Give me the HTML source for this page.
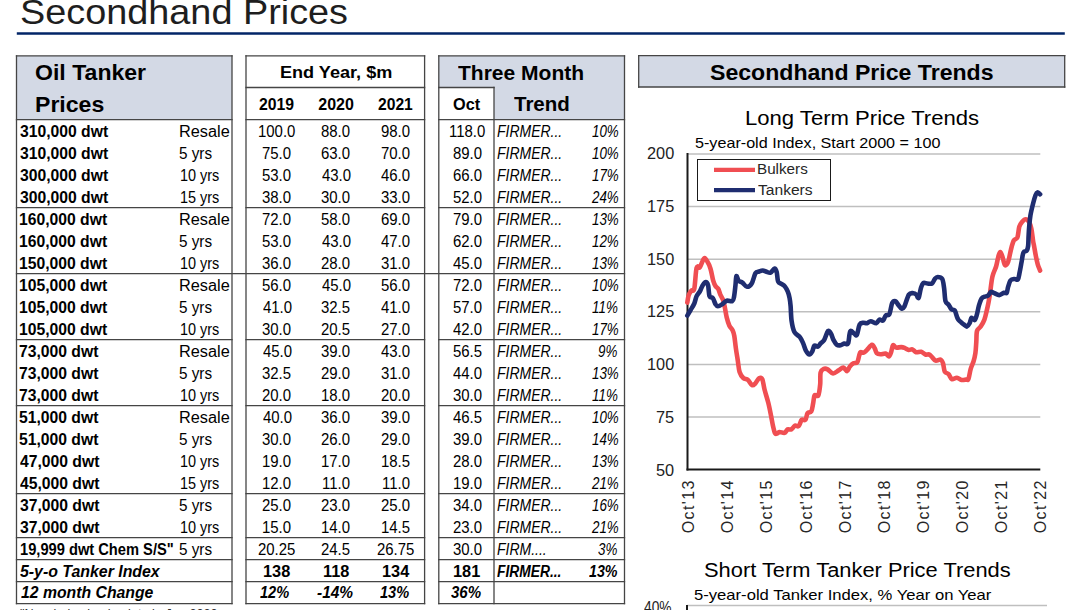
<!DOCTYPE html>
<html><head><meta charset="utf-8"><title>Secondhand Prices</title>
<style>
html,body{margin:0;padding:0;background:#fff;}
body{width:1080px;height:610px;position:relative;overflow:hidden;font-family:"Liberation Sans", sans-serif;color:#000;}
.t{position:absolute;white-space:pre;transform-origin:0 0;}
.r{position:absolute;}
</style></head><body>

<svg width="1080" height="610" style="position:absolute;left:0;top:0">
<rect x="16.5" y="55.8" width="215.5" height="63.8" fill="#d3d9e5"/>
<rect x="438.8" y="55.8" width="185.7" height="63.8" fill="#d3d9e5"/>
<rect x="438.8" y="87.5" width="55.19999999999999" height="32.099999999999994" fill="#fff"/>
<rect x="638.7" y="55.6" width="426.0" height="31.4" fill="#d3d9e5"/>
<line x1="15.85" x2="232.65" y1="55.80" y2="55.80" stroke="#454545" stroke-width="1.3"/>
<line x1="15.85" x2="232.65" y1="119.60" y2="119.60" stroke="#454545" stroke-width="1.3"/>
<line x1="15.85" x2="232.65" y1="603.60" y2="603.60" stroke="#454545" stroke-width="1.3"/>
<line x1="16.50" x2="16.50" y1="55.15" y2="604.25" stroke="#454545" stroke-width="1.3"/>
<line x1="232.00" x2="232.00" y1="55.15" y2="604.25" stroke="#454545" stroke-width="1.3"/>
<line x1="245.35" x2="425.25" y1="55.80" y2="55.80" stroke="#454545" stroke-width="1.3"/>
<line x1="245.35" x2="425.25" y1="119.60" y2="119.60" stroke="#454545" stroke-width="1.3"/>
<line x1="245.35" x2="425.25" y1="603.60" y2="603.60" stroke="#454545" stroke-width="1.3"/>
<line x1="246.00" x2="246.00" y1="55.15" y2="604.25" stroke="#454545" stroke-width="1.3"/>
<line x1="424.60" x2="424.60" y1="55.15" y2="604.25" stroke="#454545" stroke-width="1.3"/>
<line x1="438.15" x2="625.15" y1="55.80" y2="55.80" stroke="#454545" stroke-width="1.3"/>
<line x1="438.15" x2="625.15" y1="119.60" y2="119.60" stroke="#454545" stroke-width="1.3"/>
<line x1="438.15" x2="625.15" y1="603.60" y2="603.60" stroke="#454545" stroke-width="1.3"/>
<line x1="438.80" x2="438.80" y1="55.15" y2="604.25" stroke="#454545" stroke-width="1.3"/>
<line x1="624.50" x2="624.50" y1="55.15" y2="604.25" stroke="#454545" stroke-width="1.3"/>
<line x1="245.35" x2="425.25" y1="87.50" y2="87.50" stroke="#454545" stroke-width="1.3"/>
<line x1="438.15" x2="494.65" y1="87.50" y2="87.50" stroke="#454545" stroke-width="1.3"/>
<line x1="494.00" x2="494.00" y1="86.85" y2="604.25" stroke="#454545" stroke-width="1.3"/>
<line x1="15.85" x2="232.65" y1="207.60" y2="207.60" stroke="#454545" stroke-width="1.3"/>
<line x1="245.35" x2="425.25" y1="207.60" y2="207.60" stroke="#454545" stroke-width="1.3"/>
<line x1="438.15" x2="625.15" y1="207.60" y2="207.60" stroke="#454545" stroke-width="1.3"/>
<line x1="15.85" x2="232.65" y1="339.60" y2="339.60" stroke="#454545" stroke-width="1.3"/>
<line x1="245.35" x2="425.25" y1="339.60" y2="339.60" stroke="#454545" stroke-width="1.3"/>
<line x1="438.15" x2="625.15" y1="339.60" y2="339.60" stroke="#454545" stroke-width="1.3"/>
<line x1="15.85" x2="232.65" y1="405.60" y2="405.60" stroke="#454545" stroke-width="1.3"/>
<line x1="245.35" x2="425.25" y1="405.60" y2="405.60" stroke="#454545" stroke-width="1.3"/>
<line x1="438.15" x2="625.15" y1="405.60" y2="405.60" stroke="#454545" stroke-width="1.3"/>
<line x1="15.85" x2="232.65" y1="493.60" y2="493.60" stroke="#454545" stroke-width="1.3"/>
<line x1="245.35" x2="425.25" y1="493.60" y2="493.60" stroke="#454545" stroke-width="1.3"/>
<line x1="438.15" x2="625.15" y1="493.60" y2="493.60" stroke="#454545" stroke-width="1.3"/>
<line x1="15.85" x2="232.65" y1="537.60" y2="537.60" stroke="#454545" stroke-width="1.3"/>
<line x1="245.35" x2="425.25" y1="537.60" y2="537.60" stroke="#454545" stroke-width="1.3"/>
<line x1="438.15" x2="625.15" y1="537.60" y2="537.60" stroke="#454545" stroke-width="1.3"/>
<line x1="15.85" x2="232.65" y1="559.60" y2="559.60" stroke="#454545" stroke-width="1.3"/>
<line x1="245.35" x2="425.25" y1="559.60" y2="559.60" stroke="#454545" stroke-width="1.3"/>
<line x1="438.15" x2="625.15" y1="559.60" y2="559.60" stroke="#454545" stroke-width="1.3"/>
<line x1="15.85" x2="232.65" y1="581.60" y2="581.60" stroke="#454545" stroke-width="1.3"/>
<line x1="245.35" x2="425.25" y1="581.60" y2="581.60" stroke="#454545" stroke-width="1.3"/>
<line x1="438.15" x2="625.15" y1="581.60" y2="581.60" stroke="#454545" stroke-width="1.3"/>
<line x1="15.85" x2="625.15" y1="273.60" y2="273.60" stroke="#454545" stroke-width="1.3"/>
<line x1="638.05" x2="1065.35" y1="55.60" y2="55.60" stroke="#454545" stroke-width="1.3"/>
<line x1="638.05" x2="1065.35" y1="87.00" y2="87.00" stroke="#454545" stroke-width="1.3"/>
<line x1="638.70" x2="638.70" y1="54.95" y2="87.65" stroke="#454545" stroke-width="1.3"/>
<line x1="1064.70" x2="1064.70" y1="54.95" y2="87.65" stroke="#454545" stroke-width="1.3"/>
<line x1="16.8" x2="1064.8" y1="33.6" y2="33.6" stroke="#022567" stroke-width="2.5"/>
</svg>
<svg width="1080" height="610" style="position:absolute;left:0;top:0">
<line x1="687.5" x2="1040.3" y1="154.0" y2="154.0" stroke="#bfbfbf" stroke-width="1.5"/>
<line x1="687.5" x2="1040.3" y1="206.6" y2="206.6" stroke="#bfbfbf" stroke-width="1.5"/>
<line x1="687.5" x2="1040.3" y1="259.2" y2="259.2" stroke="#bfbfbf" stroke-width="1.5"/>
<line x1="687.5" x2="1040.3" y1="311.8" y2="311.8" stroke="#bfbfbf" stroke-width="1.5"/>
<line x1="687.5" x2="1040.3" y1="364.4" y2="364.4" stroke="#bfbfbf" stroke-width="1.5"/>
<line x1="687.5" x2="1040.3" y1="417.0" y2="417.0" stroke="#bfbfbf" stroke-width="1.5"/>
<line x1="687.5" x2="687.5" y1="153.0" y2="470.6" stroke="#1a1a1a" stroke-width="2"/>
<line x1="686.5" x2="1040.3" y1="469.6" y2="469.6" stroke="#1a1a1a" stroke-width="2"/>
<path d="M687.30,302.60 C687.53,301.37 688.00,297.20 688.70,295.20 C689.40,293.20 690.57,291.68 691.50,290.60 C692.43,289.52 693.45,292.50 694.30,288.70 C695.15,284.90 695.68,271.37 696.60,267.80 C697.52,264.23 698.57,268.85 699.80,267.30 C701.03,265.75 702.77,259.50 704.00,258.50 C705.23,257.50 706.12,259.60 707.20,261.30 C708.28,263.00 709.50,265.47 710.50,268.70 C711.50,271.93 712.35,277.77 713.20,280.70 C714.05,283.63 714.75,284.92 715.60,286.30 C716.45,287.68 717.53,287.67 718.30,289.00 C719.07,290.33 719.42,292.50 720.20,294.30 C720.98,296.10 722.23,297.65 723.00,299.80 C723.77,301.95 724.18,304.27 724.80,307.20 C725.42,310.13 725.93,314.32 726.70,317.40 C727.47,320.48 728.40,323.53 729.40,325.70 C730.40,327.87 731.88,328.68 732.70,330.40 C733.52,332.12 733.77,332.98 734.30,336.00 C734.83,339.02 735.32,344.40 735.90,348.50 C736.48,352.60 737.18,356.68 737.80,360.60 C738.42,364.52 738.68,369.10 739.60,372.00 C740.52,374.90 741.90,376.67 743.30,378.00 C744.70,379.33 746.53,378.80 748.00,380.00 C749.47,381.20 750.87,384.65 752.10,385.20 C753.33,385.75 754.23,384.47 755.40,383.30 C756.57,382.13 757.95,378.88 759.10,378.20 C760.25,377.52 761.38,377.27 762.30,379.20 C763.22,381.13 763.60,385.87 764.60,389.80 C765.60,393.73 767.22,398.43 768.30,402.80 C769.38,407.17 770.35,412.30 771.10,416.00 C771.85,419.70 772.15,422.15 772.80,425.00 C773.45,427.85 774.27,431.68 775.00,433.10 C775.73,434.52 776.47,433.68 777.20,433.50 C777.93,433.32 778.17,432.12 779.40,432.00 C780.63,431.88 783.23,433.23 784.60,432.80 C785.97,432.37 786.48,429.97 787.60,429.40 C788.72,428.83 790.07,430.02 791.30,429.40 C792.53,428.78 793.77,426.25 795.00,425.70 C796.23,425.15 797.58,427.08 798.70,426.10 C799.82,425.12 800.58,420.85 801.70,419.80 C802.82,418.75 804.42,420.92 805.40,419.80 C806.38,418.68 806.62,414.48 807.60,413.10 C808.58,411.72 810.37,413.18 811.30,411.50 C812.23,409.82 812.65,405.68 813.20,403.00 C813.75,400.32 813.75,396.67 814.60,395.40 C815.45,394.13 817.37,397.25 818.30,395.40 C819.23,393.55 819.82,388.10 820.20,384.30 C820.58,380.50 819.98,375.17 820.60,372.60 C821.22,370.03 822.73,369.43 823.90,368.90 C825.07,368.37 826.07,368.63 827.60,369.40 C829.13,370.17 831.25,373.35 833.10,373.50 C834.95,373.65 837.00,371.30 838.70,370.30 C840.40,369.30 841.92,367.35 843.30,367.50 C844.68,367.65 845.92,371.35 847.00,371.20 C848.08,371.05 848.72,367.92 849.80,366.60 C850.88,365.28 852.27,364.00 853.50,363.30 C854.73,362.60 856.27,363.63 857.20,362.40 C858.13,361.17 858.55,357.60 859.10,355.90 C859.65,354.20 859.73,352.73 860.50,352.20 C861.27,351.67 862.62,353.08 863.70,352.70 C864.78,352.32 865.62,351.22 867.00,349.90 C868.38,348.58 870.70,345.03 872.00,344.80 C873.30,344.57 874.02,347.12 874.80,348.50 C875.58,349.88 875.77,352.13 876.70,353.10 C877.63,354.07 878.92,354.22 880.40,354.30 C881.88,354.38 884.20,353.25 885.60,353.60 C887.00,353.95 887.88,356.63 888.80,356.40 C889.72,356.17 890.40,354.05 891.10,352.20 C891.80,350.35 892.15,346.07 893.00,345.30 C893.85,344.53 894.82,347.30 896.20,347.60 C897.58,347.90 899.83,347.02 901.30,347.10 C902.77,347.18 903.77,347.63 905.00,348.10 C906.23,348.57 907.47,349.68 908.70,349.90 C909.93,350.12 911.17,349.02 912.40,349.40 C913.63,349.78 914.63,351.80 916.10,352.20 C917.57,352.60 919.65,351.42 921.20,351.80 C922.75,352.18 924.08,354.05 925.40,354.50 C926.72,354.95 928.02,354.10 929.10,354.50 C930.18,354.90 930.82,355.88 931.90,356.90 C932.98,357.92 934.15,360.15 935.60,360.60 C937.05,361.05 939.37,359.15 940.60,359.60 C941.83,360.05 942.30,361.28 943.00,363.30 C943.70,365.32 943.88,369.92 944.80,371.70 C945.72,373.48 947.33,372.77 948.50,374.00 C949.67,375.23 950.40,378.48 951.80,379.10 C953.20,379.72 955.28,377.55 956.90,377.70 C958.52,377.85 959.97,379.70 961.50,380.00 C963.03,380.30 964.95,379.65 966.10,379.50 C967.25,379.35 967.63,380.87 968.40,379.10 C969.17,377.33 969.85,371.83 970.70,368.90 C971.55,365.97 972.72,364.13 973.50,361.50 C974.28,358.87 974.93,356.35 975.40,353.10 C975.87,349.85 976.03,345.68 976.30,342.00 C976.57,338.32 976.27,333.57 977.00,331.00 C977.73,328.43 979.47,328.50 980.70,326.60 C981.93,324.70 983.38,322.30 984.40,319.60 C985.42,316.90 986.10,313.33 986.80,310.40 C987.50,307.47 988.07,304.78 988.60,302.00 C989.13,299.22 989.37,297.92 990.00,293.70 C990.63,289.48 991.38,281.23 992.40,276.70 C993.42,272.17 995.10,269.90 996.10,266.50 C997.10,263.10 997.70,258.70 998.40,256.30 C999.10,253.90 999.60,251.95 1000.30,252.10 C1001.00,252.25 1001.83,255.03 1002.60,257.20 C1003.37,259.37 1003.98,264.32 1004.90,265.10 C1005.82,265.88 1007.10,264.45 1008.10,261.90 C1009.10,259.35 1009.97,253.35 1010.90,249.80 C1011.83,246.25 1012.62,242.65 1013.70,240.60 C1014.78,238.55 1016.47,239.82 1017.40,237.50 C1018.33,235.18 1018.53,229.28 1019.30,226.70 C1020.07,224.12 1020.93,223.23 1022.00,222.00 C1023.07,220.77 1024.53,219.30 1025.70,219.30 C1026.87,219.30 1028.07,220.47 1029.00,222.00 C1029.93,223.53 1030.62,225.33 1031.30,228.50 C1031.98,231.67 1032.63,238.07 1033.10,241.00 C1033.57,243.93 1033.63,243.55 1034.10,246.10 C1034.57,248.65 1035.28,253.22 1035.90,256.30 C1036.52,259.38 1037.10,262.22 1037.80,264.60 C1038.50,266.98 1039.72,269.60 1040.10,270.60" fill="none" stroke="#f04e52" stroke-width="4.6" stroke-linejoin="round" stroke-linecap="round"/>
<path d="M687.30,315.60 C687.85,314.67 689.43,312.02 690.60,310.00 C691.77,307.98 693.30,305.82 694.30,303.50 C695.30,301.18 695.68,298.10 696.60,296.10 C697.52,294.10 698.80,293.28 699.80,291.50 C700.80,289.72 701.60,286.97 702.60,285.40 C703.60,283.83 704.88,282.10 705.80,282.10 C706.72,282.10 707.48,283.07 708.10,285.40 C708.72,287.73 708.72,294.00 709.50,296.10 C710.28,298.20 711.78,296.62 712.80,298.00 C713.82,299.38 714.75,303.02 715.60,304.40 C716.45,305.78 716.83,306.30 717.90,306.30 C718.97,306.30 720.53,305.33 722.00,304.40 C723.47,303.47 725.00,301.23 726.70,300.70 C728.40,300.17 730.98,301.82 732.20,301.20 C733.42,300.58 733.45,299.70 734.00,297.00 C734.55,294.30 735.10,288.48 735.50,285.00 C735.90,281.52 735.87,276.82 736.40,276.10 C736.93,275.38 737.70,279.62 738.70,280.70 C739.70,281.78 741.02,281.58 742.40,282.60 C743.78,283.62 745.45,286.65 747.00,286.80 C748.55,286.95 750.30,285.75 751.70,283.50 C753.10,281.25 754.18,275.30 755.40,273.30 C756.62,271.30 757.77,271.97 759.00,271.50 C760.23,271.03 761.55,270.45 762.80,270.50 C764.05,270.55 765.20,271.43 766.50,271.80 C767.80,272.17 769.25,273.25 770.60,272.70 C771.95,272.15 773.58,268.62 774.60,268.50 C775.62,268.38 776.12,269.83 776.70,272.00 C777.28,274.17 777.33,279.53 778.10,281.50 C778.87,283.47 780.15,282.95 781.30,283.80 C782.45,284.65 783.92,285.28 785.00,286.60 C786.08,287.92 787.03,289.78 787.80,291.70 C788.57,293.62 789.13,295.72 789.60,298.10 C790.07,300.48 790.27,302.20 790.60,306.00 C790.93,309.80 790.97,316.57 791.60,320.90 C792.23,325.23 793.02,329.30 794.40,332.00 C795.78,334.70 798.45,335.25 799.90,337.10 C801.35,338.95 802.10,340.85 803.10,343.10 C804.10,345.35 804.83,348.70 805.90,350.60 C806.97,352.50 808.43,354.38 809.50,354.50 C810.57,354.62 811.48,352.78 812.30,351.30 C813.12,349.82 813.45,346.38 814.40,345.60 C815.35,344.82 816.97,346.97 818.00,346.60 C819.03,346.23 819.60,344.45 820.60,343.40 C821.60,342.35 822.98,341.92 824.00,340.30 C825.02,338.68 825.98,335.28 826.70,333.70 C827.42,332.12 827.57,330.78 828.30,330.80 C829.03,330.82 830.22,332.23 831.10,333.80 C831.98,335.37 832.63,338.37 833.60,340.20 C834.57,342.03 835.73,343.97 836.90,344.80 C838.07,345.63 839.33,345.42 840.60,345.20 C841.87,344.98 843.25,343.82 844.50,343.50 C845.75,343.18 847.15,345.32 848.10,343.30 C849.05,341.28 849.20,333.03 850.20,331.40 C851.20,329.77 852.98,332.93 854.10,333.50 C855.22,334.07 855.98,336.28 856.90,334.80 C857.82,333.32 858.53,326.60 859.60,324.60 C860.67,322.60 862.07,323.03 863.30,322.80 C864.53,322.57 865.77,323.47 867.00,323.20 C868.23,322.93 869.15,321.20 870.70,321.20 C872.25,321.20 874.85,323.47 876.30,323.20 C877.75,322.93 878.28,320.03 879.40,319.60 C880.52,319.17 881.95,321.28 883.00,320.60 C884.05,319.92 884.63,316.58 885.70,315.50 C886.77,314.42 888.32,316.18 889.40,314.10 C890.48,312.02 891.18,305.17 892.20,303.00 C893.22,300.83 894.50,300.80 895.50,301.10 C896.50,301.40 897.20,303.57 898.20,304.80 C899.20,306.03 900.48,308.18 901.50,308.50 C902.52,308.82 903.07,309.02 904.30,306.70 C905.53,304.38 907.37,296.85 908.90,294.60 C910.43,292.35 912.27,293.20 913.50,293.20 C914.73,293.20 915.45,293.82 916.30,294.60 C917.15,295.38 917.83,298.98 918.60,297.90 C919.37,296.82 920.13,290.57 920.90,288.10 C921.67,285.63 922.12,283.87 923.20,283.10 C924.28,282.33 925.93,283.43 927.40,283.50 C928.87,283.57 930.77,284.27 932.00,283.50 C933.23,282.73 933.87,279.98 934.80,278.90 C935.73,277.82 936.37,277.00 937.60,277.00 C938.83,277.00 941.12,277.05 942.20,278.90 C943.28,280.75 943.55,284.40 944.10,288.10 C944.65,291.80 944.73,298.32 945.50,301.10 C946.27,303.88 947.70,303.42 948.70,304.80 C949.70,306.18 950.50,308.47 951.50,309.40 C952.50,310.33 953.78,309.15 954.70,310.40 C955.62,311.65 956.37,315.33 957.00,316.90 C957.63,318.47 957.78,318.88 958.50,319.80 C959.22,320.72 960.37,321.58 961.30,322.40 C962.23,323.22 963.17,324.00 964.10,324.70 C965.03,325.40 965.98,326.83 966.90,326.60 C967.82,326.37 968.83,324.77 969.60,323.30 C970.37,321.83 970.65,318.33 971.50,317.80 C972.35,317.27 973.78,320.72 974.70,320.10 C975.62,319.48 976.30,316.50 977.00,314.10 C977.70,311.70 978.12,308.33 978.90,305.70 C979.68,303.07 980.62,299.83 981.70,298.30 C982.78,296.77 984.33,296.95 985.40,296.50 C986.47,296.05 987.18,296.37 988.10,295.60 C989.02,294.83 989.97,292.37 990.90,291.90 C991.83,291.43 992.30,292.27 993.70,292.80 C995.10,293.33 997.60,295.10 999.30,295.10 C1001.00,295.10 1002.67,293.18 1003.90,292.80 C1005.13,292.42 1006.00,293.78 1006.70,292.80 C1007.40,291.82 1007.47,288.97 1008.10,286.90 C1008.73,284.83 1009.42,281.72 1010.50,280.40 C1011.58,279.08 1013.37,279.17 1014.60,279.00 C1015.83,278.83 1017.05,280.57 1017.90,279.40 C1018.75,278.23 1019.08,274.92 1019.70,272.00 C1020.32,269.08 1020.98,265.13 1021.60,261.90 C1022.22,258.67 1022.55,254.47 1023.40,252.60 C1024.25,250.73 1025.92,251.78 1026.70,250.70 C1027.48,249.62 1027.78,248.55 1028.10,246.10 C1028.42,243.65 1028.42,239.23 1028.60,236.00 C1028.78,232.77 1028.90,230.10 1029.20,226.70 C1029.50,223.30 1029.75,219.47 1030.40,215.60 C1031.05,211.73 1032.25,206.90 1033.10,203.50 C1033.95,200.10 1034.80,197.05 1035.50,195.20 C1036.20,193.35 1036.53,192.55 1037.30,192.40 C1038.07,192.25 1039.63,193.98 1040.10,194.30" fill="none" stroke="#1f2d70" stroke-width="4.6" stroke-linejoin="round" stroke-linecap="round"/>
<rect x="697.5" y="159.5" width="133" height="41" fill="#fff" stroke="#1a1a1a" stroke-width="1"/>
<line x1="714" x2="755" y1="169.8" y2="169.8" stroke="#f04e52" stroke-width="4.2"/>
<line x1="714" x2="755" y1="190.2" y2="190.2" stroke="#1f2d70" stroke-width="4.2"/>
<text transform="translate(694.1,533.3) rotate(-90)" font-family="Liberation Sans" font-size="16" letter-spacing="1.4" fill="#262626">Oct'13</text>
<text transform="translate(733.2,533.3) rotate(-90)" font-family="Liberation Sans" font-size="16" letter-spacing="1.4" fill="#262626">Oct'14</text>
<text transform="translate(772.3,533.3) rotate(-90)" font-family="Liberation Sans" font-size="16" letter-spacing="1.4" fill="#262626">Oct'15</text>
<text transform="translate(811.5,533.3) rotate(-90)" font-family="Liberation Sans" font-size="16" letter-spacing="1.4" fill="#262626">Oct'16</text>
<text transform="translate(850.6,533.3) rotate(-90)" font-family="Liberation Sans" font-size="16" letter-spacing="1.4" fill="#262626">Oct'17</text>
<text transform="translate(889.7,533.3) rotate(-90)" font-family="Liberation Sans" font-size="16" letter-spacing="1.4" fill="#262626">Oct'18</text>
<text transform="translate(928.8,533.3) rotate(-90)" font-family="Liberation Sans" font-size="16" letter-spacing="1.4" fill="#262626">Oct'19</text>
<text transform="translate(967.9,533.3) rotate(-90)" font-family="Liberation Sans" font-size="16" letter-spacing="1.4" fill="#262626">Oct'20</text>
<text transform="translate(1007.1,533.3) rotate(-90)" font-family="Liberation Sans" font-size="16" letter-spacing="1.4" fill="#262626">Oct'21</text>
<text transform="translate(1046.2,533.3) rotate(-90)" font-family="Liberation Sans" font-size="16" letter-spacing="1.4" fill="#262626">Oct'22</text>
<line x1="687" x2="1047" y1="605.5" y2="605.5" stroke="#bfbfbf" stroke-width="1.5"/>
<line x1="687" x2="687" y1="605" y2="612" stroke="#1a1a1a" stroke-width="2"/>
</svg>
<div class="t" style="left:20.34px;top:-8px;font-size:35px;line-height:39px;color:#1e1e1e;transform:scaleX(1.0807);">Secondhand Prices</div>
<div class="t" style="left:35.17px;top:60px;font-size:22.5px;line-height:25px;font-weight:bold;transform:scaleX(1.0252);">Oil Tanker</div>
<div class="t" style="left:35.17px;top:92px;font-size:22.5px;line-height:25px;font-weight:bold;transform:scaleX(1.0252);">Prices</div>
<div class="t" style="left:279.87px;top:64px;font-size:16px;line-height:17px;font-weight:bold;transform:scaleX(1.1309);">End Year, $m</div>
<div class="t" style="left:258.80px;top:96px;font-size:16px;line-height:17px;font-weight:bold;transform:scaleX(0.9857);">2019</div>
<div class="t" style="left:318.30px;top:96px;font-size:16px;line-height:17px;font-weight:bold;">2020</div>
<div class="t" style="left:377.50px;top:96px;font-size:16px;line-height:17px;font-weight:bold;transform:scaleX(0.9771);">2021</div>
<div class="t" style="left:458.10px;top:62px;font-size:20px;line-height:22px;font-weight:bold;transform:scaleX(1.0504);">Three Month</div>
<div class="t" style="left:452.98px;top:96px;font-size:16px;line-height:17px;font-weight:bold;transform:scaleX(1.0154);">Oct</div>
<div class="t" style="left:513.70px;top:93px;font-size:20px;line-height:22px;font-weight:bold;transform:scaleX(1.0245);">Trend</div>
<div class="t" style="left:20.00px;top:123px;font-size:16px;line-height:17px;font-weight:bold;transform:scaleX(0.9811);">310,000 dwt</div>
<div class="t" style="left:178.98px;top:123px;font-size:16px;line-height:17px;transform:scaleX(1.0188);">Resale</div>
<div class="t" style="left:258.07px;top:123px;font-size:16px;line-height:17px;transform:scaleX(0.9333);">100.0</div>
<div class="t" style="left:321.07px;top:123px;font-size:16px;line-height:17px;transform:scaleX(0.9333);">88.0</div>
<div class="t" style="left:380.87px;top:123px;font-size:16px;line-height:17px;transform:scaleX(0.9333);">98.0</div>
<div class="t" style="left:449.30px;top:123px;font-size:16px;line-height:17px;transform:scaleX(0.9333);">118.0</div>
<div class="t" style="left:497.30px;top:123px;font-size:16px;line-height:17px;font-style:italic;transform:scaleX(0.8740);">FIRMER...</div>
<div class="t" style="left:591.50px;top:123px;font-size:16px;line-height:17px;font-style:italic;transform:scaleX(0.8355);">10%</div>
<div class="t" style="left:20.00px;top:145px;font-size:16px;line-height:17px;font-weight:bold;transform:scaleX(0.9811);">310,000 dwt</div>
<div class="t" style="left:178.65px;top:145px;font-size:16px;line-height:17px;transform:scaleX(0.9545);">5 yrs</div>
<div class="t" style="left:262.27px;top:145px;font-size:16px;line-height:17px;transform:scaleX(0.9333);">75.0</div>
<div class="t" style="left:321.07px;top:145px;font-size:16px;line-height:17px;transform:scaleX(0.9333);">63.0</div>
<div class="t" style="left:380.87px;top:145px;font-size:16px;line-height:17px;transform:scaleX(0.9333);">70.0</div>
<div class="t" style="left:452.57px;top:145px;font-size:16px;line-height:17px;transform:scaleX(0.9333);">89.0</div>
<div class="t" style="left:497.30px;top:145px;font-size:16px;line-height:17px;font-style:italic;transform:scaleX(0.8740);">FIRMER...</div>
<div class="t" style="left:591.50px;top:145px;font-size:16px;line-height:17px;font-style:italic;transform:scaleX(0.8355);">10%</div>
<div class="t" style="left:20.00px;top:167px;font-size:16px;line-height:17px;font-weight:bold;transform:scaleX(0.9811);">300,000 dwt</div>
<div class="t" style="left:180.40px;top:167px;font-size:16px;line-height:17px;transform:scaleX(0.9024);">10 yrs</div>
<div class="t" style="left:262.27px;top:167px;font-size:16px;line-height:17px;transform:scaleX(0.9333);">53.0</div>
<div class="t" style="left:321.53px;top:167px;font-size:16px;line-height:17px;transform:scaleX(0.9333);">43.0</div>
<div class="t" style="left:381.33px;top:167px;font-size:16px;line-height:17px;transform:scaleX(0.9333);">46.0</div>
<div class="t" style="left:452.57px;top:167px;font-size:16px;line-height:17px;transform:scaleX(0.9333);">66.0</div>
<div class="t" style="left:497.30px;top:167px;font-size:16px;line-height:17px;font-style:italic;transform:scaleX(0.8740);">FIRMER...</div>
<div class="t" style="left:591.50px;top:167px;font-size:16px;line-height:17px;font-style:italic;transform:scaleX(0.8355);">17%</div>
<div class="t" style="left:20.00px;top:189px;font-size:16px;line-height:17px;font-weight:bold;transform:scaleX(0.9811);">300,000 dwt</div>
<div class="t" style="left:180.40px;top:189px;font-size:16px;line-height:17px;transform:scaleX(0.9024);">15 yrs</div>
<div class="t" style="left:262.27px;top:189px;font-size:16px;line-height:17px;transform:scaleX(0.9333);">38.0</div>
<div class="t" style="left:321.07px;top:189px;font-size:16px;line-height:17px;transform:scaleX(0.9333);">30.0</div>
<div class="t" style="left:380.87px;top:189px;font-size:16px;line-height:17px;transform:scaleX(0.9333);">33.0</div>
<div class="t" style="left:452.57px;top:189px;font-size:16px;line-height:17px;transform:scaleX(0.9333);">52.0</div>
<div class="t" style="left:497.30px;top:189px;font-size:16px;line-height:17px;font-style:italic;transform:scaleX(0.8740);">FIRMER...</div>
<div class="t" style="left:591.50px;top:189px;font-size:16px;line-height:17px;font-style:italic;transform:scaleX(0.8355);">24%</div>
<div class="t" style="left:19.02px;top:211px;font-size:16px;line-height:17px;font-weight:bold;transform:scaleX(0.9811);">160,000 dwt</div>
<div class="t" style="left:178.98px;top:211px;font-size:16px;line-height:17px;transform:scaleX(1.0188);">Resale</div>
<div class="t" style="left:262.27px;top:211px;font-size:16px;line-height:17px;transform:scaleX(0.9333);">72.0</div>
<div class="t" style="left:321.07px;top:211px;font-size:16px;line-height:17px;transform:scaleX(0.9333);">58.0</div>
<div class="t" style="left:380.87px;top:211px;font-size:16px;line-height:17px;transform:scaleX(0.9333);">69.0</div>
<div class="t" style="left:452.57px;top:211px;font-size:16px;line-height:17px;transform:scaleX(0.9333);">79.0</div>
<div class="t" style="left:497.30px;top:211px;font-size:16px;line-height:17px;font-style:italic;transform:scaleX(0.8740);">FIRMER...</div>
<div class="t" style="left:591.50px;top:211px;font-size:16px;line-height:17px;font-style:italic;transform:scaleX(0.8355);">13%</div>
<div class="t" style="left:19.02px;top:233px;font-size:16px;line-height:17px;font-weight:bold;transform:scaleX(0.9811);">160,000 dwt</div>
<div class="t" style="left:178.65px;top:233px;font-size:16px;line-height:17px;transform:scaleX(0.9545);">5 yrs</div>
<div class="t" style="left:262.27px;top:233px;font-size:16px;line-height:17px;transform:scaleX(0.9333);">53.0</div>
<div class="t" style="left:321.53px;top:233px;font-size:16px;line-height:17px;transform:scaleX(0.9333);">43.0</div>
<div class="t" style="left:381.33px;top:233px;font-size:16px;line-height:17px;transform:scaleX(0.9333);">47.0</div>
<div class="t" style="left:452.57px;top:233px;font-size:16px;line-height:17px;transform:scaleX(0.9333);">62.0</div>
<div class="t" style="left:497.30px;top:233px;font-size:16px;line-height:17px;font-style:italic;transform:scaleX(0.8740);">FIRMER...</div>
<div class="t" style="left:591.50px;top:233px;font-size:16px;line-height:17px;font-style:italic;transform:scaleX(0.8355);">12%</div>
<div class="t" style="left:19.02px;top:255px;font-size:16px;line-height:17px;font-weight:bold;transform:scaleX(0.9811);">150,000 dwt</div>
<div class="t" style="left:180.40px;top:255px;font-size:16px;line-height:17px;transform:scaleX(0.9024);">10 yrs</div>
<div class="t" style="left:262.27px;top:255px;font-size:16px;line-height:17px;transform:scaleX(0.9333);">36.0</div>
<div class="t" style="left:321.07px;top:255px;font-size:16px;line-height:17px;transform:scaleX(0.9333);">28.0</div>
<div class="t" style="left:380.87px;top:255px;font-size:16px;line-height:17px;transform:scaleX(0.9333);">31.0</div>
<div class="t" style="left:453.03px;top:255px;font-size:16px;line-height:17px;transform:scaleX(0.9333);">45.0</div>
<div class="t" style="left:497.30px;top:255px;font-size:16px;line-height:17px;font-style:italic;transform:scaleX(0.8740);">FIRMER...</div>
<div class="t" style="left:591.50px;top:255px;font-size:16px;line-height:17px;font-style:italic;transform:scaleX(0.8355);">13%</div>
<div class="t" style="left:19.02px;top:277px;font-size:16px;line-height:17px;font-weight:bold;transform:scaleX(0.9811);">105,000 dwt</div>
<div class="t" style="left:178.98px;top:277px;font-size:16px;line-height:17px;transform:scaleX(1.0188);">Resale</div>
<div class="t" style="left:262.27px;top:277px;font-size:16px;line-height:17px;transform:scaleX(0.9333);">56.0</div>
<div class="t" style="left:321.53px;top:277px;font-size:16px;line-height:17px;transform:scaleX(0.9333);">45.0</div>
<div class="t" style="left:380.87px;top:277px;font-size:16px;line-height:17px;transform:scaleX(0.9333);">56.0</div>
<div class="t" style="left:452.57px;top:277px;font-size:16px;line-height:17px;transform:scaleX(0.9333);">72.0</div>
<div class="t" style="left:497.30px;top:277px;font-size:16px;line-height:17px;font-style:italic;transform:scaleX(0.8740);">FIRMER...</div>
<div class="t" style="left:591.50px;top:277px;font-size:16px;line-height:17px;font-style:italic;transform:scaleX(0.8355);">10%</div>
<div class="t" style="left:19.02px;top:299px;font-size:16px;line-height:17px;font-weight:bold;transform:scaleX(0.9811);">105,000 dwt</div>
<div class="t" style="left:178.65px;top:299px;font-size:16px;line-height:17px;transform:scaleX(0.9545);">5 yrs</div>
<div class="t" style="left:262.73px;top:299px;font-size:16px;line-height:17px;transform:scaleX(0.9333);">41.0</div>
<div class="t" style="left:321.07px;top:299px;font-size:16px;line-height:17px;transform:scaleX(0.9333);">32.5</div>
<div class="t" style="left:381.33px;top:299px;font-size:16px;line-height:17px;transform:scaleX(0.9333);">41.0</div>
<div class="t" style="left:452.57px;top:299px;font-size:16px;line-height:17px;transform:scaleX(0.9333);">57.0</div>
<div class="t" style="left:497.30px;top:299px;font-size:16px;line-height:17px;font-style:italic;transform:scaleX(0.8740);">FIRMER...</div>
<div class="t" style="left:592.34px;top:299px;font-size:16px;line-height:17px;font-style:italic;transform:scaleX(0.8355);">11%</div>
<div class="t" style="left:19.02px;top:321px;font-size:16px;line-height:17px;font-weight:bold;transform:scaleX(0.9811);">105,000 dwt</div>
<div class="t" style="left:180.40px;top:321px;font-size:16px;line-height:17px;transform:scaleX(0.9024);">10 yrs</div>
<div class="t" style="left:262.27px;top:321px;font-size:16px;line-height:17px;transform:scaleX(0.9333);">30.0</div>
<div class="t" style="left:321.07px;top:321px;font-size:16px;line-height:17px;transform:scaleX(0.9333);">20.5</div>
<div class="t" style="left:380.87px;top:321px;font-size:16px;line-height:17px;transform:scaleX(0.9333);">27.0</div>
<div class="t" style="left:453.03px;top:321px;font-size:16px;line-height:17px;transform:scaleX(0.9333);">42.0</div>
<div class="t" style="left:497.30px;top:321px;font-size:16px;line-height:17px;font-style:italic;transform:scaleX(0.8740);">FIRMER...</div>
<div class="t" style="left:591.50px;top:321px;font-size:16px;line-height:17px;font-style:italic;transform:scaleX(0.8355);">17%</div>
<div class="t" style="left:19.02px;top:343px;font-size:16px;line-height:17px;font-weight:bold;transform:scaleX(0.9811);">73,000 dwt</div>
<div class="t" style="left:178.98px;top:343px;font-size:16px;line-height:17px;transform:scaleX(1.0188);">Resale</div>
<div class="t" style="left:262.73px;top:343px;font-size:16px;line-height:17px;transform:scaleX(0.9333);">45.0</div>
<div class="t" style="left:321.07px;top:343px;font-size:16px;line-height:17px;transform:scaleX(0.9333);">39.0</div>
<div class="t" style="left:381.33px;top:343px;font-size:16px;line-height:17px;transform:scaleX(0.9333);">43.0</div>
<div class="t" style="left:452.57px;top:343px;font-size:16px;line-height:17px;transform:scaleX(0.9333);">56.5</div>
<div class="t" style="left:497.30px;top:343px;font-size:16px;line-height:17px;font-style:italic;transform:scaleX(0.8740);">FIRMER...</div>
<div class="t" style="left:598.18px;top:343px;font-size:16px;line-height:17px;font-style:italic;transform:scaleX(0.8355);">9%</div>
<div class="t" style="left:19.02px;top:365px;font-size:16px;line-height:17px;font-weight:bold;transform:scaleX(0.9811);">73,000 dwt</div>
<div class="t" style="left:178.65px;top:365px;font-size:16px;line-height:17px;transform:scaleX(0.9545);">5 yrs</div>
<div class="t" style="left:262.27px;top:365px;font-size:16px;line-height:17px;transform:scaleX(0.9333);">32.5</div>
<div class="t" style="left:321.07px;top:365px;font-size:16px;line-height:17px;transform:scaleX(0.9333);">29.0</div>
<div class="t" style="left:380.87px;top:365px;font-size:16px;line-height:17px;transform:scaleX(0.9333);">31.0</div>
<div class="t" style="left:453.03px;top:365px;font-size:16px;line-height:17px;transform:scaleX(0.9333);">44.0</div>
<div class="t" style="left:497.30px;top:365px;font-size:16px;line-height:17px;font-style:italic;transform:scaleX(0.8740);">FIRMER...</div>
<div class="t" style="left:591.50px;top:365px;font-size:16px;line-height:17px;font-style:italic;transform:scaleX(0.8355);">13%</div>
<div class="t" style="left:19.02px;top:387px;font-size:16px;line-height:17px;font-weight:bold;transform:scaleX(0.9811);">73,000 dwt</div>
<div class="t" style="left:180.40px;top:387px;font-size:16px;line-height:17px;transform:scaleX(0.9024);">10 yrs</div>
<div class="t" style="left:262.27px;top:387px;font-size:16px;line-height:17px;transform:scaleX(0.9333);">20.0</div>
<div class="t" style="left:321.07px;top:387px;font-size:16px;line-height:17px;transform:scaleX(0.9333);">18.0</div>
<div class="t" style="left:380.87px;top:387px;font-size:16px;line-height:17px;transform:scaleX(0.9333);">20.0</div>
<div class="t" style="left:452.57px;top:387px;font-size:16px;line-height:17px;transform:scaleX(0.9333);">30.0</div>
<div class="t" style="left:497.30px;top:387px;font-size:16px;line-height:17px;font-style:italic;transform:scaleX(0.8740);">FIRMER...</div>
<div class="t" style="left:592.34px;top:387px;font-size:16px;line-height:17px;font-style:italic;transform:scaleX(0.8355);">11%</div>
<div class="t" style="left:19.02px;top:409px;font-size:16px;line-height:17px;font-weight:bold;transform:scaleX(0.9811);">51,000 dwt</div>
<div class="t" style="left:178.98px;top:409px;font-size:16px;line-height:17px;transform:scaleX(1.0188);">Resale</div>
<div class="t" style="left:262.73px;top:409px;font-size:16px;line-height:17px;transform:scaleX(0.9333);">40.0</div>
<div class="t" style="left:321.07px;top:409px;font-size:16px;line-height:17px;transform:scaleX(0.9333);">36.0</div>
<div class="t" style="left:380.87px;top:409px;font-size:16px;line-height:17px;transform:scaleX(0.9333);">39.0</div>
<div class="t" style="left:453.03px;top:409px;font-size:16px;line-height:17px;transform:scaleX(0.9333);">46.5</div>
<div class="t" style="left:497.30px;top:409px;font-size:16px;line-height:17px;font-style:italic;transform:scaleX(0.8740);">FIRMER...</div>
<div class="t" style="left:591.50px;top:409px;font-size:16px;line-height:17px;font-style:italic;transform:scaleX(0.8355);">10%</div>
<div class="t" style="left:19.02px;top:431px;font-size:16px;line-height:17px;font-weight:bold;transform:scaleX(0.9811);">51,000 dwt</div>
<div class="t" style="left:178.65px;top:431px;font-size:16px;line-height:17px;transform:scaleX(0.9545);">5 yrs</div>
<div class="t" style="left:262.27px;top:431px;font-size:16px;line-height:17px;transform:scaleX(0.9333);">30.0</div>
<div class="t" style="left:321.07px;top:431px;font-size:16px;line-height:17px;transform:scaleX(0.9333);">26.0</div>
<div class="t" style="left:380.87px;top:431px;font-size:16px;line-height:17px;transform:scaleX(0.9333);">29.0</div>
<div class="t" style="left:452.57px;top:431px;font-size:16px;line-height:17px;transform:scaleX(0.9333);">39.0</div>
<div class="t" style="left:497.30px;top:431px;font-size:16px;line-height:17px;font-style:italic;transform:scaleX(0.8740);">FIRMER...</div>
<div class="t" style="left:591.50px;top:431px;font-size:16px;line-height:17px;font-style:italic;transform:scaleX(0.8355);">14%</div>
<div class="t" style="left:20.00px;top:453px;font-size:16px;line-height:17px;font-weight:bold;transform:scaleX(0.9811);">47,000 dwt</div>
<div class="t" style="left:180.40px;top:453px;font-size:16px;line-height:17px;transform:scaleX(0.9024);">10 yrs</div>
<div class="t" style="left:262.27px;top:453px;font-size:16px;line-height:17px;transform:scaleX(0.9333);">19.0</div>
<div class="t" style="left:321.07px;top:453px;font-size:16px;line-height:17px;transform:scaleX(0.9333);">17.0</div>
<div class="t" style="left:380.87px;top:453px;font-size:16px;line-height:17px;transform:scaleX(0.9333);">18.5</div>
<div class="t" style="left:452.57px;top:453px;font-size:16px;line-height:17px;transform:scaleX(0.9333);">28.0</div>
<div class="t" style="left:497.30px;top:453px;font-size:16px;line-height:17px;font-style:italic;transform:scaleX(0.8740);">FIRMER...</div>
<div class="t" style="left:591.50px;top:453px;font-size:16px;line-height:17px;font-style:italic;transform:scaleX(0.8355);">13%</div>
<div class="t" style="left:20.00px;top:475px;font-size:16px;line-height:17px;font-weight:bold;transform:scaleX(0.9811);">45,000 dwt</div>
<div class="t" style="left:180.40px;top:475px;font-size:16px;line-height:17px;transform:scaleX(0.9024);">15 yrs</div>
<div class="t" style="left:262.27px;top:475px;font-size:16px;line-height:17px;transform:scaleX(0.9333);">12.0</div>
<div class="t" style="left:322.00px;top:475px;font-size:16px;line-height:17px;transform:scaleX(0.9333);">11.0</div>
<div class="t" style="left:381.80px;top:475px;font-size:16px;line-height:17px;transform:scaleX(0.9333);">11.0</div>
<div class="t" style="left:452.57px;top:475px;font-size:16px;line-height:17px;transform:scaleX(0.9333);">19.0</div>
<div class="t" style="left:497.30px;top:475px;font-size:16px;line-height:17px;font-style:italic;transform:scaleX(0.8740);">FIRMER...</div>
<div class="t" style="left:591.50px;top:475px;font-size:16px;line-height:17px;font-style:italic;transform:scaleX(0.8355);">21%</div>
<div class="t" style="left:20.00px;top:497px;font-size:16px;line-height:17px;font-weight:bold;transform:scaleX(0.9811);">37,000 dwt</div>
<div class="t" style="left:178.65px;top:497px;font-size:16px;line-height:17px;transform:scaleX(0.9545);">5 yrs</div>
<div class="t" style="left:262.27px;top:497px;font-size:16px;line-height:17px;transform:scaleX(0.9333);">25.0</div>
<div class="t" style="left:321.07px;top:497px;font-size:16px;line-height:17px;transform:scaleX(0.9333);">23.0</div>
<div class="t" style="left:380.87px;top:497px;font-size:16px;line-height:17px;transform:scaleX(0.9333);">25.0</div>
<div class="t" style="left:452.57px;top:497px;font-size:16px;line-height:17px;transform:scaleX(0.9333);">34.0</div>
<div class="t" style="left:497.30px;top:497px;font-size:16px;line-height:17px;font-style:italic;transform:scaleX(0.8740);">FIRMER...</div>
<div class="t" style="left:591.50px;top:497px;font-size:16px;line-height:17px;font-style:italic;transform:scaleX(0.8355);">16%</div>
<div class="t" style="left:20.00px;top:519px;font-size:16px;line-height:17px;font-weight:bold;transform:scaleX(0.9811);">37,000 dwt</div>
<div class="t" style="left:180.40px;top:519px;font-size:16px;line-height:17px;transform:scaleX(0.9024);">10 yrs</div>
<div class="t" style="left:262.27px;top:519px;font-size:16px;line-height:17px;transform:scaleX(0.9333);">15.0</div>
<div class="t" style="left:321.07px;top:519px;font-size:16px;line-height:17px;transform:scaleX(0.9333);">14.0</div>
<div class="t" style="left:380.87px;top:519px;font-size:16px;line-height:17px;transform:scaleX(0.9333);">14.5</div>
<div class="t" style="left:452.57px;top:519px;font-size:16px;line-height:17px;transform:scaleX(0.9333);">23.0</div>
<div class="t" style="left:497.30px;top:519px;font-size:16px;line-height:17px;font-style:italic;transform:scaleX(0.8740);">FIRMER...</div>
<div class="t" style="left:591.50px;top:519px;font-size:16px;line-height:17px;font-style:italic;transform:scaleX(0.8355);">21%</div>
<div class="t" style="left:19.58px;top:541px;font-size:16px;line-height:17px;font-weight:bold;transform:scaleX(0.9169);">19,999 dwt Chem S/S"</div>
<div class="t" style="left:178.65px;top:541px;font-size:16px;line-height:17px;transform:scaleX(0.9545);">5 yrs</div>
<div class="t" style="left:258.07px;top:541px;font-size:16px;line-height:17px;transform:scaleX(0.9333);">20.25</div>
<div class="t" style="left:321.07px;top:541px;font-size:16px;line-height:17px;transform:scaleX(0.9333);">24.5</div>
<div class="t" style="left:376.67px;top:541px;font-size:16px;line-height:17px;transform:scaleX(0.9333);">26.75</div>
<div class="t" style="left:452.57px;top:541px;font-size:16px;line-height:17px;transform:scaleX(0.9333);">30.0</div>
<div class="t" style="left:497.30px;top:541px;font-size:16px;line-height:17px;font-style:italic;transform:scaleX(0.8740);">FIRM....</div>
<div class="t" style="left:598.18px;top:541px;font-size:16px;line-height:17px;font-style:italic;transform:scaleX(0.8355);">3%</div>
<div class="t" style="left:20.20px;top:563px;font-size:16px;line-height:17px;font-weight:bold;font-style:italic;transform:scaleX(0.9922);">5-y-o Tanker Index</div>
<div class="t" style="left:263.13px;top:563px;font-size:16px;line-height:17px;font-weight:bold;transform:scaleX(1.0200);">138</div>
<div class="t" style="left:323.03px;top:563px;font-size:16px;line-height:17px;font-weight:bold;transform:scaleX(1.0200);">118</div>
<div class="t" style="left:381.92px;top:563px;font-size:16px;line-height:17px;font-weight:bold;transform:scaleX(1.0200);">134</div>
<div class="t" style="left:453.33px;top:563px;font-size:16px;line-height:17px;font-weight:bold;transform:scaleX(1.0200);">181</div>
<div class="t" style="left:497.30px;top:563px;font-size:16px;line-height:17px;font-weight:bold;font-style:italic;transform:scaleX(0.8630);">FIRMER...</div>
<div class="t" style="left:588.90px;top:563px;font-size:16px;line-height:17px;font-weight:bold;font-style:italic;transform:scaleX(0.8906);">13%</div>
<div class="t" style="left:21.00px;top:584px;font-size:16px;line-height:17px;font-weight:bold;font-style:italic;transform:scaleX(0.9858);">12 month Change</div>
<div class="t" style="left:260.40px;top:584px;font-size:16px;line-height:17px;font-weight:bold;font-style:italic;transform:scaleX(0.9125);">12%</div>
<div class="t" style="left:316.90px;top:584px;font-size:16px;line-height:17px;font-weight:bold;font-style:italic;transform:scaleX(0.9649);">-14%</div>
<div class="t" style="left:379.80px;top:584px;font-size:16px;line-height:17px;font-weight:bold;font-style:italic;transform:scaleX(0.9094);">13%</div>
<div class="t" style="left:450.60px;top:584px;font-size:16px;line-height:17px;font-weight:bold;font-style:italic;transform:scaleX(0.9406);">36%</div>
<div class="t" style="left:20.00px;top:606px;font-size:13px;line-height:15px;color:#333;transform:scaleX(0.9752);">"New index basis, data in Jan 2020</div>
<div class="t" style="left:709.77px;top:60px;font-size:22.5px;line-height:25px;font-weight:bold;transform:scaleX(1.0262);">Secondhand Price Trends</div>
<div class="t" style="left:745.29px;top:107px;font-size:20px;line-height:22px;transform:scaleX(1.1043);">Long Term Price Trends</div>
<div class="t" style="left:695.39px;top:135px;font-size:14.5px;line-height:16px;transform:scaleX(1.1132);">5-year-old Index, Start 2000 = 100</div>
<div class="t" style="left:646.78px;top:145px;font-size:16px;line-height:17px;color:#222;transform:scaleX(1.0200);">200</div>
<div class="t" style="left:646.78px;top:198px;font-size:16px;line-height:17px;color:#222;transform:scaleX(1.0200);">175</div>
<div class="t" style="left:646.78px;top:251px;font-size:16px;line-height:17px;color:#222;transform:scaleX(1.0200);">150</div>
<div class="t" style="left:646.78px;top:303px;font-size:16px;line-height:17px;color:#222;transform:scaleX(1.0200);">125</div>
<div class="t" style="left:646.78px;top:356px;font-size:16px;line-height:17px;color:#222;transform:scaleX(1.0200);">100</div>
<div class="t" style="left:655.96px;top:409px;font-size:16px;line-height:17px;color:#222;transform:scaleX(1.0200);">75</div>
<div class="t" style="left:655.96px;top:462px;font-size:16px;line-height:17px;color:#222;transform:scaleX(1.0200);">50</div>
<div class="t" style="left:756.62px;top:160px;font-size:15.5px;line-height:17px;color:#262626;transform:scaleX(0.9820);">Bulkers</div>
<div class="t" style="left:757.60px;top:181px;font-size:15.5px;line-height:17px;color:#262626;transform:scaleX(1.0056);">Tankers</div>
<div class="t" style="left:703.91px;top:559px;font-size:20px;line-height:22px;transform:scaleX(1.0932);">Short Term Tanker Price Trends</div>
<div class="t" style="left:693.85px;top:587px;font-size:14.5px;line-height:16px;transform:scaleX(1.1465);">5-year-old Tanker Index, % Year on Year</div>
<div class="t" style="left:644.20px;top:599px;font-size:16px;line-height:17px;color:#222;transform:scaleX(0.8594);">40%</div>
</body></html>
